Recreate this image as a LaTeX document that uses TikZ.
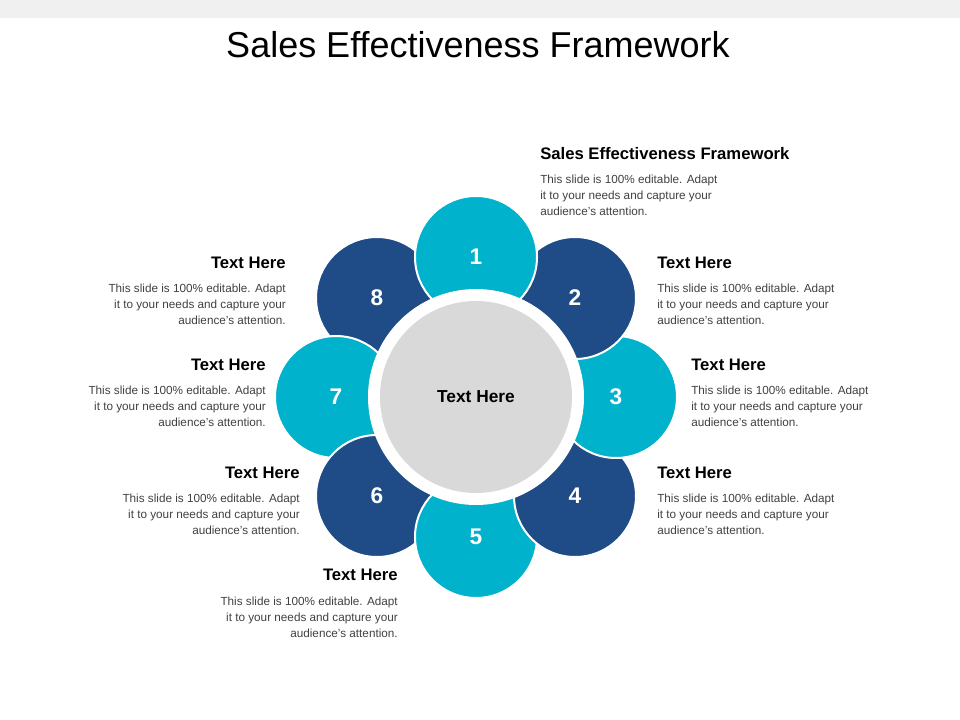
\documentclass[tikz,border=0pt]{standalone}
\usepackage{fontspec}
\setmainfont{Liberation Sans}
\usetikzlibrary{calc}
\definecolor{teal}{HTML}{00B2CC}
\definecolor{navy}{HTML}{1F4B87}
\definecolor{cgrey}{HTML}{D9D9D9}
\tikzset{
 petal/.style={circle,draw=white,line width=1.5pt,minimum size=122pt*0.75,inner sep=0pt,text=white,font=\bfseries\fontsize{17}{17}\selectfont},
 head/.style={font=\bfseries\fontsize{12.5}{14}\selectfont,inner sep=0pt},
 bodyl/.style={font=\fontsize{8.8}{12}\selectfont,align=left,anchor=north west,inner sep=0pt,text=black!75},
 bodyr/.style={font=\fontsize{8.8}{12}\selectfont,align=right,anchor=north east,inner sep=0pt,text=black!75}
}
\begin{document}
\begin{tikzpicture}[x=0.75pt,y=-0.75pt]
\useasboundingbox (0,0) rectangle (960,720);
\fill[black!6] (0,0) rectangle (960,18);
\node[font=\fontsize{27}{30}\selectfont,inner sep=0pt] (title) at (478,45) {Sales Effectiveness Framework};
\coordinate (c) at (476,397);
\foreach \i/\a/\col in {8/135/navy,7/180/teal,6/225/navy,5/270/teal,4/315/navy,3/0/teal,2/45/navy,1/90/teal}{
  \node[petal,fill=\col] (p\i) at ($(c)+({140*cos(\a)},{-140*sin(\a)})$) {};
}
\foreach \i/\a in {1/90,2/45,3/0,4/315,5/270,6/225,7/180,8/135}{
  \node[font=\bfseries\fontsize{17}{17}\selectfont,text=white] (n\i) at ($(c)+({140*cos(\a)},{-140*sin(\a)})$) {\i};
}
\node[circle,fill=white,minimum size=216pt*0.75] (ring) at (c) {};
\node[circle,fill=cgrey,minimum size=192pt*0.75,font=\bfseries\fontsize{13}{14}\selectfont] (center) at (c) {Text Here};
% blocks
\node[head,anchor=west] (h1) at (540,154) {Sales Effectiveness Framework};
\node[bodyl] (b1) at (540,175) {This slide is 100\% editable. Adapt\\it to your needs and capture your\\audience's attention.};
\node[head,anchor=west] (h2) at (657,263) {Text Here};
\node[bodyl] (b2) at (657,284) {This slide is 100\% editable. Adapt\\it to your needs and capture your\\audience's attention.};
\node[head,anchor=west] (h3) at (691,365) {Text Here};
\node[bodyl] (b3) at (691,386) {This slide is 100\% editable. Adapt\\it to your needs and capture your\\audience's attention.};
\node[head,anchor=west] (h4) at (657,473) {Text Here};
\node[bodyl] (b4) at (657,494) {This slide is 100\% editable. Adapt\\it to your needs and capture your\\audience's attention.};
\node[head,anchor=east] (h8) at (286,263) {Text Here};
\node[bodyr] (b8) at (286,284) {This slide is 100\% editable. Adapt\\it to your needs and capture your\\audience's attention.};
\node[head,anchor=east] (h7) at (266,365) {Text Here};
\node[bodyr] (b7) at (266,386) {This slide is 100\% editable. Adapt\\it to your needs and capture your\\audience's attention.};
\node[head,anchor=east] (h6) at (300,473) {Text Here};
\node[bodyr] (b6) at (300,494) {This slide is 100\% editable. Adapt\\it to your needs and capture your\\audience's attention.};
\node[head,anchor=east] (h5) at (398,575) {Text Here};
\node[bodyr] (b5) at (398,597) {This slide is 100\% editable. Adapt\\it to your needs and capture your\\audience's attention.};
\end{tikzpicture}
\end{document}
